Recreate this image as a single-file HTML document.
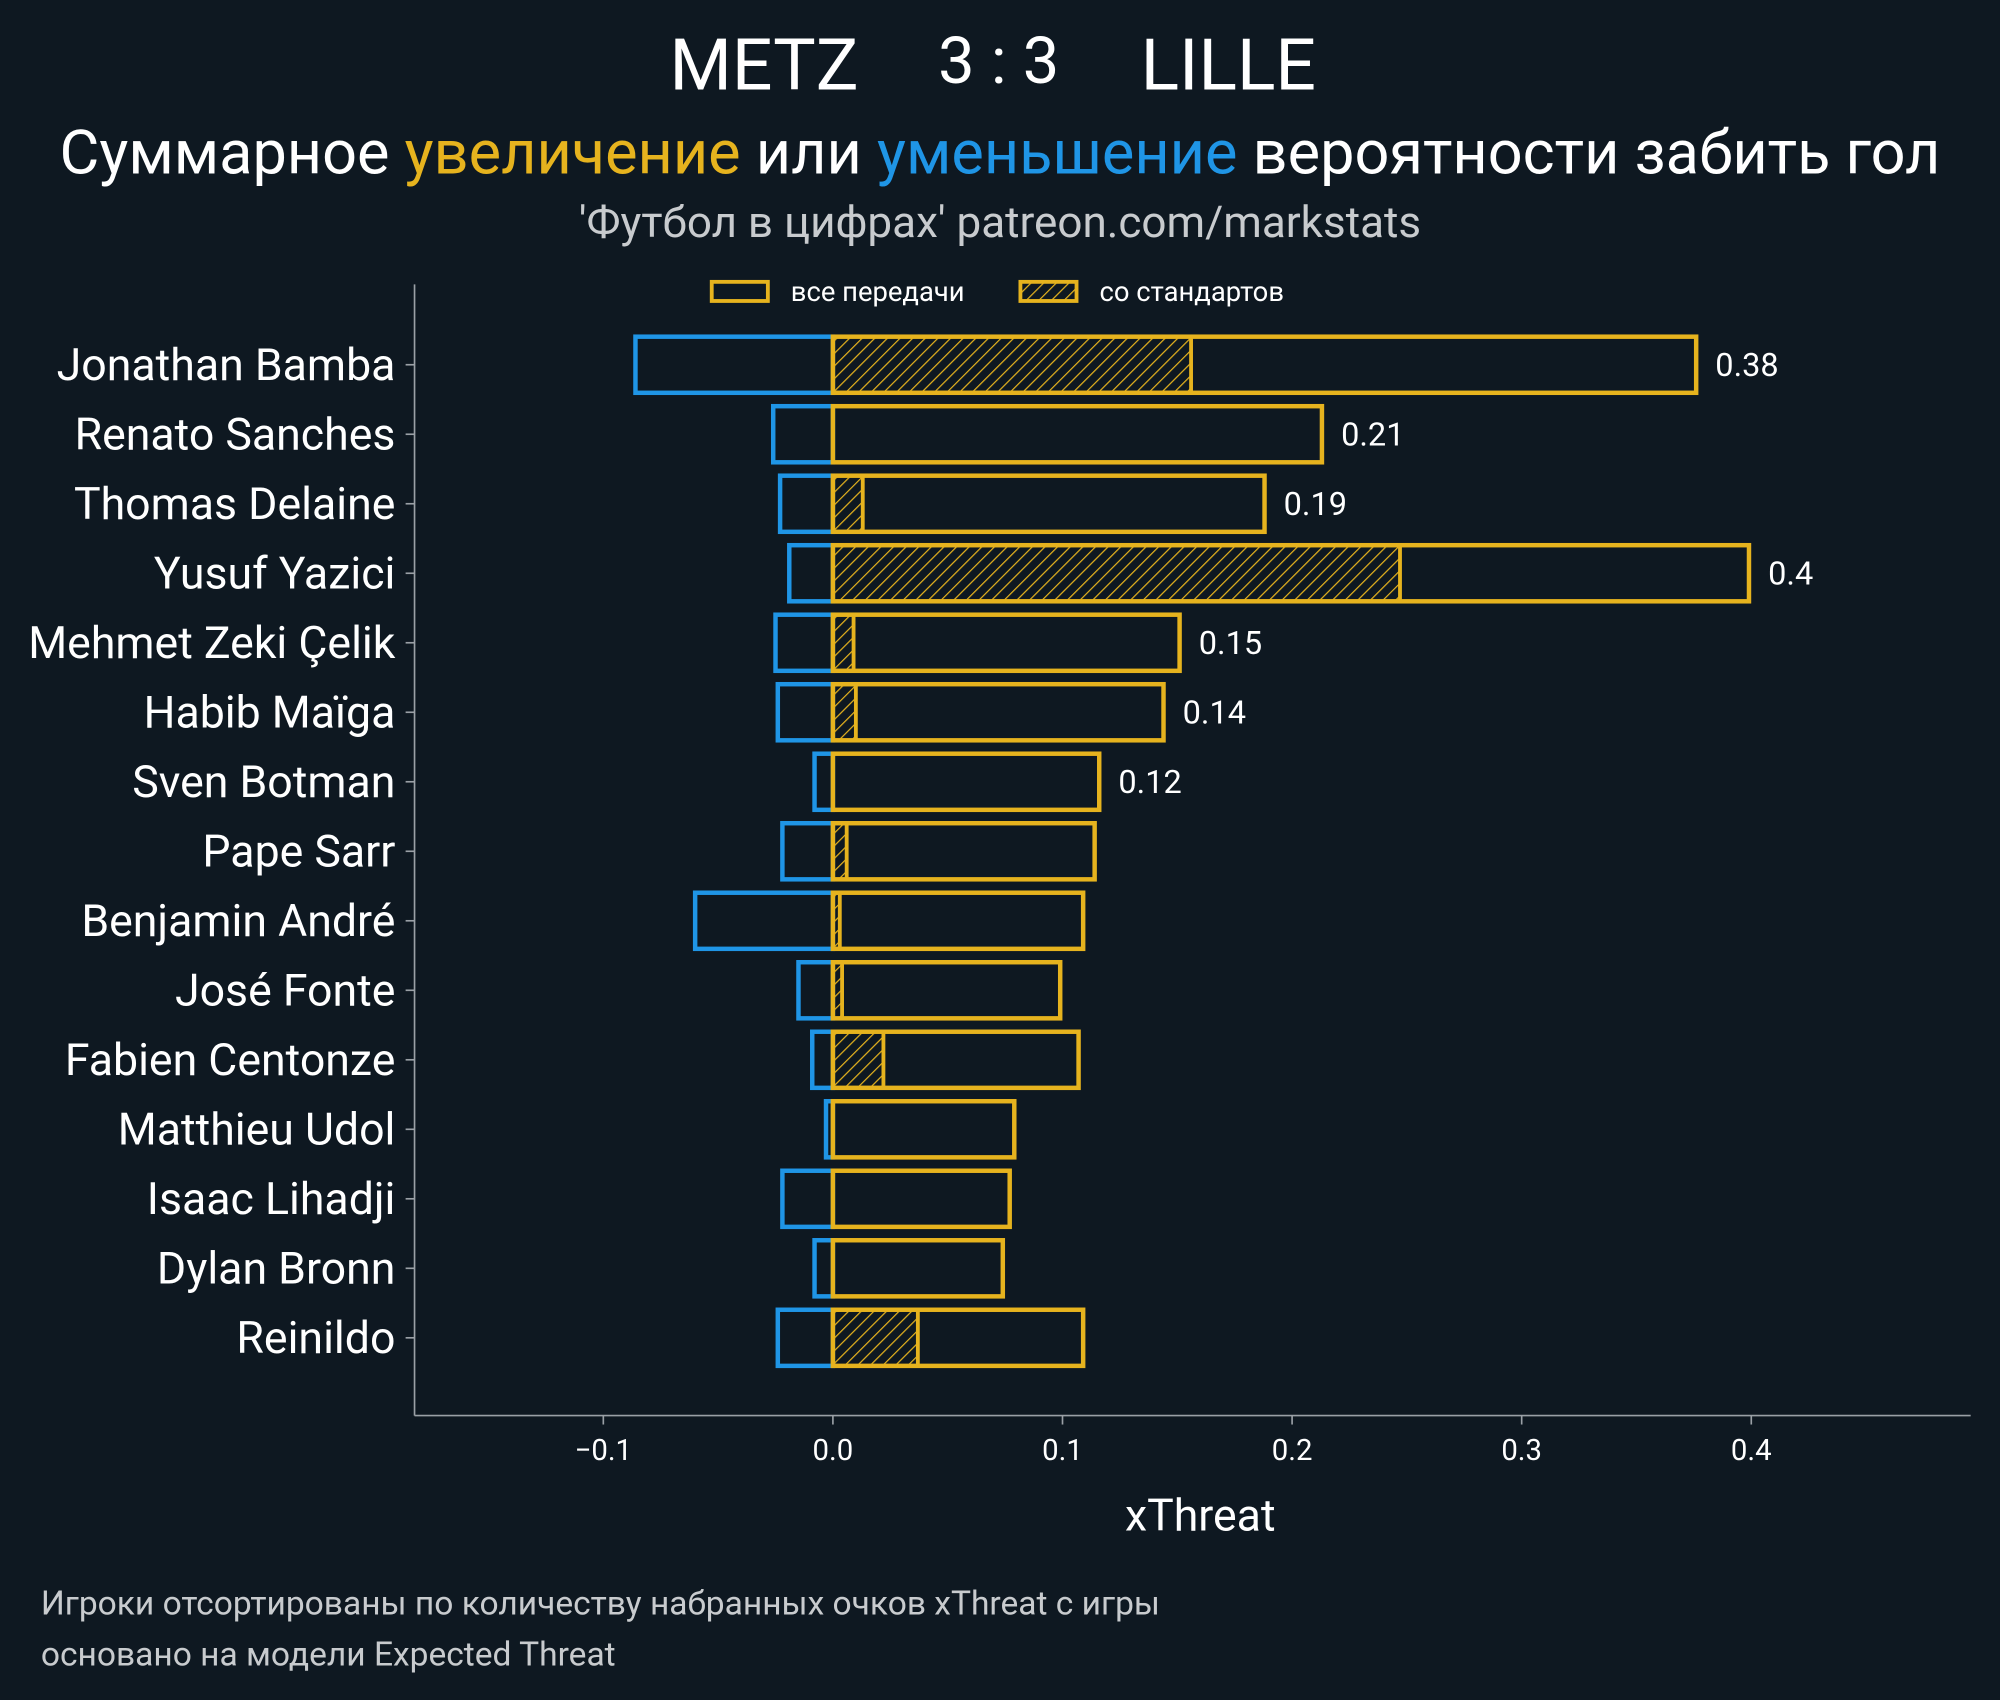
<!DOCTYPE html>
<html><head><meta charset="utf-8"><style>
html,body{margin:0;padding:0;background:#0e1821;}
svg{display:block;font-family:"Roboto","Liberation Sans","DejaVu Sans",sans-serif;}
</style></head><body>
<svg id="chart" width="2000" height="1700" viewBox="0 0 1568 1333" preserveAspectRatio="none" xmlns="http://www.w3.org/2000/svg">
<defs>
<pattern id="hatch" patternUnits="userSpaceOnUse" width="7" height="7" patternTransform="rotate(45)">
<line x1="0" y1="0" x2="0" y2="7" stroke="#e6b31e" stroke-width="1.9"/>
</pattern>
</defs>
<rect width="1568" height="1333" fill="#0e1821"/>
<g fill="#ffffff">
<text x="599" y="70" font-size="56" text-anchor="middle">METZ</text>
<text x="783" y="65" font-size="51" text-anchor="middle">3 : 3</text>
<text x="963" y="70" font-size="56" text-anchor="middle">LILLE</text>
</g>
<text x="784" y="136" font-size="48" text-anchor="middle" fill="#ffffff">Суммарное <tspan fill="#e6b31e">увеличение</tspan> или <tspan fill="#1f95e6">уменьшение</tspan> вероятности забить гол</text>
<text x="784" y="186" font-size="34.5" text-anchor="middle" fill="#c8cbce">'Футбол в цифрах' patreon.com/markstats</text>
<g>
<rect x="558" y="221" width="44" height="15" fill="none" stroke="#e6b31e" stroke-width="3"/>
<text x="620" y="236" font-size="21.5" fill="#ffffff">все передачи</text>
<rect x="800" y="221" width="44" height="15" fill="url(#hatch)" stroke="#e6b31e" stroke-width="3"/>
<text x="862" y="236" font-size="21.5" fill="#ffffff">со стандартов</text>
</g>
<g id="plot"></g>
<text x="941" y="1200" font-size="35" text-anchor="middle" fill="#ffffff">xThreat</text>
<text x="32" y="1266" font-size="26.3" fill="#c8cbce">Игроки отсортированы по количеству набранных очков xThreat с игры</text>
<text x="32" y="1306" font-size="26.3" fill="#c8cbce">основано на модели Expected Threat</text>
</svg>
<script>
const players = ["Jonathan Bamba","Renato Sanches","Thomas Delaine","Yusuf Yazici","Mehmet Zeki Çelik","Habib Maïga","Sven Botman","Pape Sarr","Benjamin André","José Fonte","Fabien Centonze","Matthieu Udol","Isaac Lihadji","Dylan Bronn","Reinildo"];
const negValues = [-0.086,-0.026,-0.023,-0.019,-0.025,-0.024,-0.008,-0.022,-0.060,-0.015,-0.009,-0.003,-0.022,-0.008,-0.024];
const posValues = [0.376,0.213,0.188,0.399,0.151,0.144,0.116,0.114,0.109,0.099,0.107,0.079,0.077,0.074,0.109];
const setPieceValues = [0.156,0,0.013,0.247,0.009,0.010,0,0.006,0.003,0.004,0.022,0,0,0,0.037];
const valueLabels = ["0.38","0.21","0.19","0.4","0.15","0.14","0.12"];
const xTicks = [-0.1,0.0,0.1,0.2,0.3,0.4];
const xTickLabels = ["−0.1","0.0","0.1","0.2","0.3","0.4"];

const NS="http://www.w3.org/2000/svg";
const plot=document.getElementById('plot');
const xs=v=>653+v*1800;
const ys=i=>286+i*54.5;
const H=44;
function mk(tag,attrs){const e=document.createElementNS(NS,tag);for(const k in attrs)e.setAttribute(k,attrs[k]);plot.appendChild(e);return e;}

let e=mk('line',{x1:325,y1:223,x2:325,y2:1110,stroke:'#9aa0a6','stroke-width':1.3});


e=mk('line',{x1:325,y1:1110,x2:1545,y2:1110,stroke:'#9aa0a6','stroke-width':1.3});



xTicks.forEach((t,k)=>{
  let l=mk('line',{x1:xs(t),y1:1110,x2:xs(t),y2:1117,stroke:'#9aa0a6','stroke-width':1.3});
  
  
  let tx=mk('text',{x:xs(t),y:1145,'font-size':23,'text-anchor':'middle',fill:'#ffffff'});
  tx.textContent=xTickLabels[k];
  
  
});

players.forEach((p,i)=>{
  const y=ys(i);
  let l=mk('line',{x1:318,y1:y,x2:325,y2:y,stroke:'#9aa0a6','stroke-width':1.3});
  
  
  let t=mk('text',{x:310,y:y+12,'font-size':35,'text-anchor':'end',fill:'#ffffff'});
  t.textContent=p;
  
  
  let n=mk('rect',{x:xs(negValues[i]),y:y-H/2,width:xs(0)-xs(negValues[i]),height:H,fill:'none',stroke:'#1f95e6','stroke-width':3.5});
  
  
  if(setPieceValues[i]>0){
    let s=mk('rect',{x:xs(0),y:y-H/2,width:xs(setPieceValues[i])-xs(0),height:H,fill:'url(#hatch)',stroke:'#e6b31e','stroke-width':3});
    
    
  }
  let b=mk('rect',{x:xs(0),y:y-H/2,width:xs(posValues[i])-xs(0),height:H,fill:'none',stroke:'#e6b31e','stroke-width':3.5});
  
  
  if(i<valueLabels.length){
    let v=mk('text',{x:xs(posValues[i])+15,y:y+9,'font-size':25.5,fill:'#ffffff'});
    v.textContent=valueLabels[i];
    
    
  }
});
</script>
</body></html>
